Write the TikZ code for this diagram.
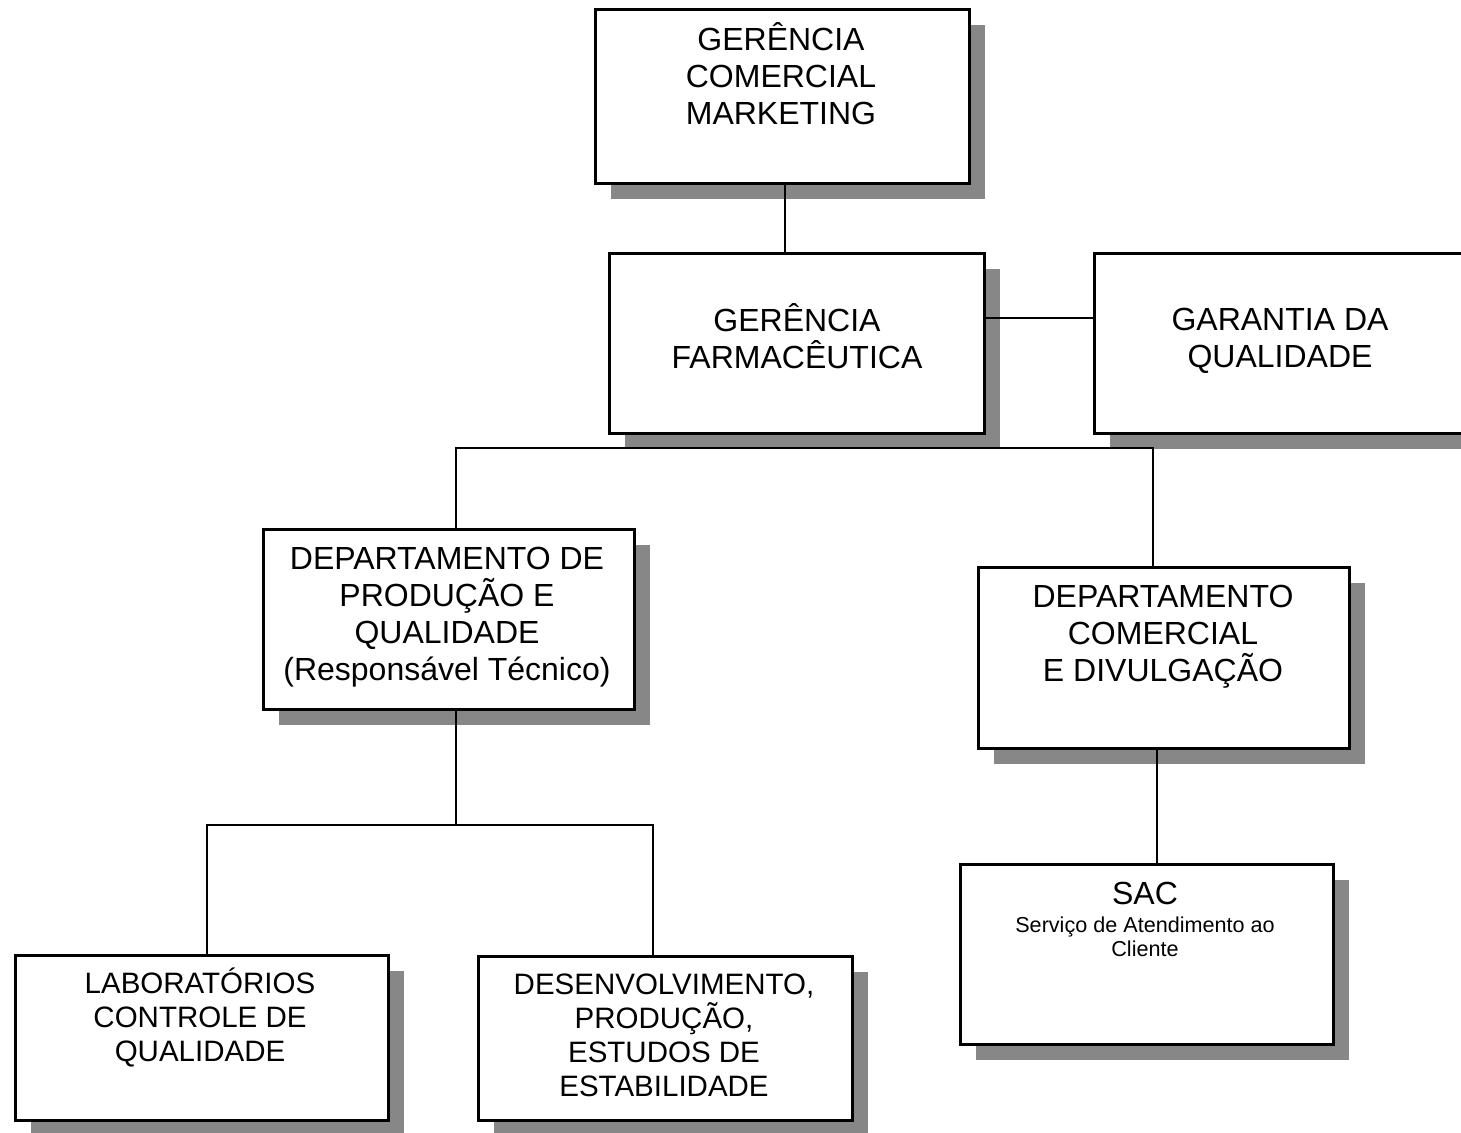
\documentclass[tikz,border=0pt]{standalone}
\usepackage{fontspec}
\setmainfont{Liberation Sans}
\usetikzlibrary{shadows}
\definecolor{shadowgray}{RGB}{135,135,135}
\tikzset{
  box/.style={draw=black, line width=1.4pt, fill=white, anchor=north west, inner sep=0pt,
    drop shadow={shadow xshift=8pt, shadow yshift=-8pt, fill=shadowgray, opacity=1}},
  conn/.style={draw=black, line width=0.9pt},
  bigtxt/.style={align=center, inner sep=0pt, font=\fontsize{16}{18.5}\selectfont},
  midtxt/.style={align=center, inner sep=0pt, font=\fontsize{14.75}{17}\selectfont},
  smalltxt/.style={align=center, inner sep=0pt, font=\fontsize{10.8}{12}\selectfont}
}
\begin{document}
\begin{tikzpicture}[x=0.5pt, y=-0.5pt]
\clip (0,0) rectangle (1461,1132);
\fill[white] (0,0) rectangle (1461,1132);

% boxes
\node[box, minimum width=187pt, minimum height=87pt] (b1) at (594,8) {};
\node[box, minimum width=187.5pt, minimum height=90pt] (b2) at (608,252) {};
\node[box, minimum width=187pt, minimum height=90pt] (b3) at (1093,252) {};
\node[box, minimum width=185.5pt, minimum height=90pt] (b4) at (262,528) {};
\node[box, minimum width=185.5pt, minimum height=90.5pt] (b5) at (977,566) {};
\node[box, minimum width=186.5pt, minimum height=90pt] (b6) at (959,863) {};
\node[box, minimum width=186.5pt, minimum height=82.5pt] (b7) at (14,954) {};
\node[box, minimum width=187pt, minimum height=82pt] (b8) at (477,955) {};

% texts
\node[bigtxt] (t1) at (781,74) {GERÊNCIA\\COMERCIAL\\MARKETING};
\node[bigtxt] (t2) at (797,336) {GERÊNCIA\\FARMACÊUTICA};
\node[bigtxt] (t3) at (1280,341) {GARANTIA DA\\QUALIDADE};
\node[bigtxt] (t4) at (447,617) {DEPARTAMENTO DE\\PRODUÇÃO E\\QUALIDADE\\(Responsável Técnico)};
\node[bigtxt] (t5) at (1163,637) {DEPARTAMENTO\\COMERCIAL\\E DIVULGAÇÃO};
\node[bigtxt] (t6) at (1145,893) {SAC};
\node[smalltxt] (t6b) at (1145,937) {Serviço de Atendimento ao\\Cliente};
\node[midtxt] (t7) at (200,1017) {LABORATÓRIOS\\CONTROLE DE\\QUALIDADE};
\node[midtxt] (t8) at (664,1035) {DESENVOLVIMENTO,\\PRODUÇÃO,\\ESTUDOS DE\\ESTABILIDADE};

% junction coordinates
\coordinate (j1) at (785,0);
\coordinate (j2) at (0,318);
\coordinate (busL) at (456,448);
\coordinate (busR) at (1153,448);
\coordinate (j4) at (456,825);
\coordinate (cL) at (207,825);
\coordinate (cR) at (653,825);
\coordinate (j5) at (1157,0);

% connectors
\draw[conn] (b1.south -| j1) -- (b2.north -| j1);
\draw[conn] (b2.east |- j2) -- (b3.west |- j2);
\draw[conn] (b4.north -| busL) -- (busL) -- (busR) -- (b5.north -| busR);
\draw[conn] (b4.south -| j4) -- (j4);
\draw[conn] (b7.north -| cL) -- (cL) -- (cR) -- (b8.north -| cR);
\draw[conn] (b5.south -| j5) -- (b6.north -| j5);
\end{tikzpicture}
\end{document}
